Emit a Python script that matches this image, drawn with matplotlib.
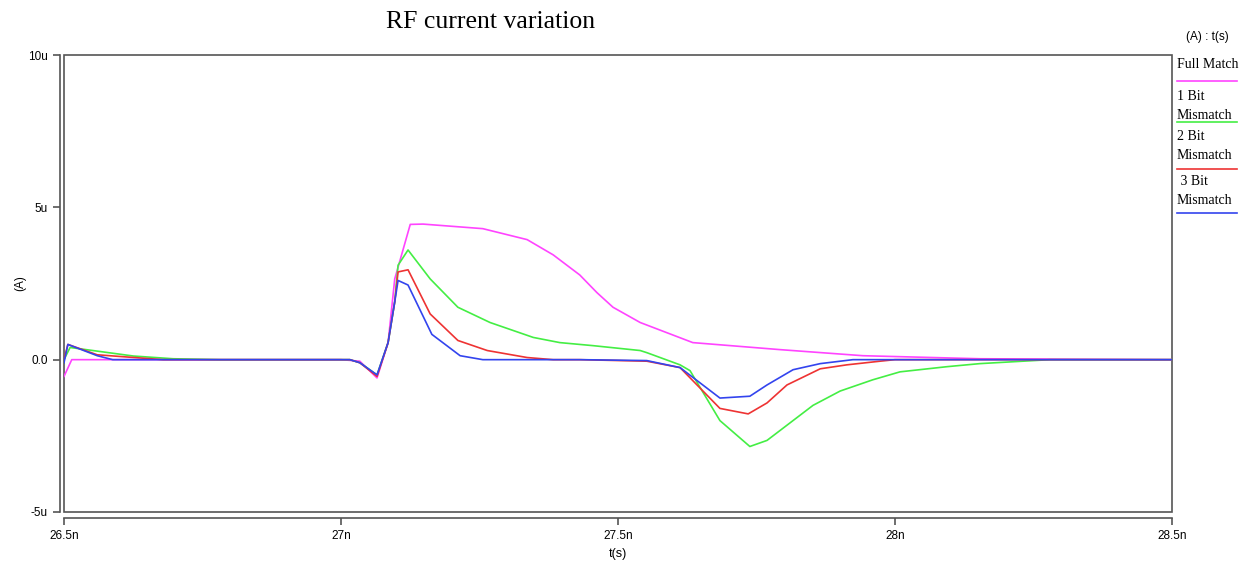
import matplotlib
matplotlib.use("Agg")
import matplotlib.pyplot as plt
from matplotlib.lines import Line2D
from matplotlib.patches import Rectangle

# time in ns, current in uA
t_full = [26.5, 26.514, 26.6, 27.0, 27.034, 27.065, 27.085, 27.097, 27.125, 27.148,
          27.256, 27.336, 27.383, 27.431, 27.462, 27.491, 27.540, 27.635, 27.792,
          27.942, 28.153, 28.5]
i_full = [-0.55, 0.0, 0.0, 0.0, -0.05, -0.6, 0.56, 2.65, 4.44, 4.45,
          4.3, 3.94, 3.44, 2.78, 2.2, 1.72, 1.22, 0.56, 0.33,
          0.13, 0.03, 0.0]

t_1bit = [26.5, 26.511, 26.552, 26.625, 26.697, 26.782, 27.0, 27.016, 27.034, 27.065,
          27.085, 27.097, 27.103, 27.121, 27.161, 27.211, 27.269, 27.347, 27.395,
          27.455, 27.540, 27.552, 27.612, 27.630, 27.684, 27.738, 27.769, 27.852,
          27.901, 27.960, 28.009, 28.094, 28.153, 28.28, 28.5]
i_1bit = [0.0, 0.4, 0.3, 0.12, 0.03, 0.0, 0.0, 0.0, -0.1, -0.5,
          0.56, 1.9, 3.1, 3.6, 2.65, 1.72, 1.22, 0.73, 0.56,
          0.46, 0.3, 0.23, -0.17, -0.36, -2.0, -2.85, -2.65, -1.5,
          -1.03, -0.66, -0.4, -0.23, -0.13, 0.0, 0.0]

t_2bit = [26.5, 26.507, 26.560, 26.679, 26.75, 27.0, 27.016, 27.034, 27.065, 27.085,
          27.097, 27.103, 27.121, 27.161, 27.211, 27.264, 27.336, 27.383, 27.431,
          27.552, 27.612, 27.684, 27.735, 27.769, 27.805, 27.865, 27.913, 27.973,
          28.0, 28.5]
i_2bit = [0.0, 0.5, 0.16, 0.0, 0.0, 0.0, 0.0, -0.1, -0.55, 0.56,
          1.9, 2.88, 2.95, 1.5, 0.63, 0.3, 0.07, 0.0, 0.0,
          -0.05, -0.26, -1.6, -1.78, -1.42, -0.83, -0.3, -0.17, -0.05,
          0.0, 0.0]

t_3bit = [26.5, 26.507, 26.560, 26.588, 26.7, 27.0, 27.016, 27.034, 27.065, 27.085,
          27.097, 27.103, 27.121, 27.164, 27.215, 27.256, 27.431, 27.552, 27.612,
          27.684, 27.738, 27.769, 27.816, 27.865, 27.924, 28.0, 28.5]
i_3bit = [-0.1, 0.5, 0.13, 0.0, 0.0, 0.0, 0.0, -0.1, -0.5, 0.56,
          1.9, 2.6, 2.45, 0.83, 0.13, 0.0, 0.0, -0.03, -0.26,
          -1.26, -1.2, -0.83, -0.33, -0.13, 0.0, 0.0, 0.0]

series = [
    ("Full Match", t_full, i_full, "#ff44ff"),
    ("1 Bit\nMismatch", t_1bit, i_1bit, "#44ee44"),
    ("2 Bit\nMismatch", t_2bit, i_2bit, "#ee3333"),
    (" 3 Bit\nMismatch", t_3bit, i_3bit, "#3344ee"),
]

xticks = [26.5, 27.0, 27.5, 28.0, 28.5]
xticklabels = ["26.5n", "27n", "27.5n", "28n", "28.5n"]
yticks = [-5, 0, 5, 10]
yticklabels = ["-5u", "0.0", "5u", "10u"]

W, H = 1247, 565
fig = plt.figure(figsize=(W / 100, H / 100), dpi=100)
ax = fig.add_axes([64 / W, 1 - 512 / H, (1172 - 64) / W, (512 - 55) / H])

for name, t, i, c in series:
    ax.plot(t, i, color=c, lw=1.2)

ax.set_xlim(26.5, 28.5)
ax.set_ylim(-5, 10)

# inner box
ax.add_patch(Rectangle((0, 0), 1, 1, transform=ax.transAxes, fill=False,
                       edgecolor="#555555", lw=1.2, clip_on=False))
for s in ["top", "right"]:
    ax.spines[s].set_visible(False)
ax.spines["left"].set_position(("outward", 3))
ax.spines["bottom"].set_position(("outward", 4))
for s in ["left", "bottom"]:
    ax.spines[s].set_color("#555555")
    ax.spines[s].set_linewidth(1.2)

ax.set_xticks(xticks)
ax.set_xticklabels(xticklabels)
ax.set_yticks(yticks)
ax.set_yticklabels(yticklabels)
ax.tick_params(axis="both", labelsize=8.5, color="#555555", length=5, width=1.2)
ax.tick_params(axis="x", pad=4)
for lab in ax.get_xticklabels() + ax.get_yticklabels():
    lab.set_family("Liberation Sans")

fig.text(20 / W, 1 - 283 / H, "(A)", rotation=90, ha="center", va="center",
         fontsize=8.5, family="Liberation Sans")
fig.text(618 / W, 1 - 554 / H, "t(s)", ha="center", va="center",
         fontsize=9, family="Liberation Sans")

fig.text(491 / W, 1 - 22 / H, "RF current variation", ha="center", va="center",
         fontsize=18.5, family="Liberation Serif")

# legend at the right
fig.text(1207 / W, 1 - 37 / H, "(A) : t(s)", ha="center", va="center",
         fontsize=8.5, family="Liberation Sans")
label_y = [65, 106, 146, 191]
line_y = [81, 122, 169, 213]
for (name, t, i, c), ly, lny in zip(series, label_y, line_y):
    fig.text(1177 / W, 1 - ly / H, name, ha="left", va="center",
             fontsize=10, family="Liberation Serif", linespacing=1.65)
    fig.add_artist(Line2D([1177 / W, 1237 / W], [1 - lny / H, 1 - lny / H],
                          transform=fig.transFigure, color=c, lw=1.2))

fig.savefig("out.png", dpi=100)
